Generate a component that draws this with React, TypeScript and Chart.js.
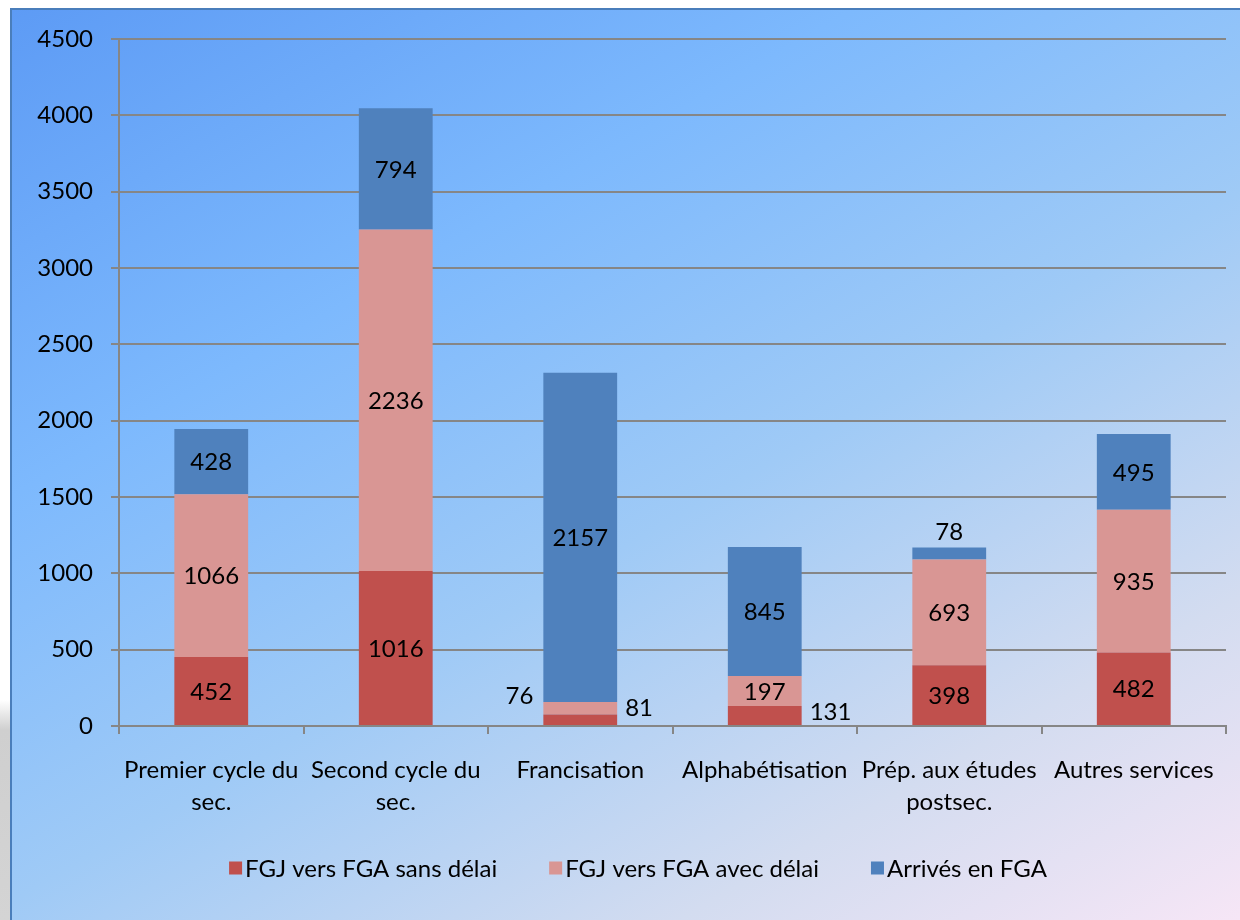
import React, { useEffect, useRef } from "react";
import { Chart, registerables } from "chart.js";

Chart.register(...registerables);

const categories: (string | string[])[] = [
  ["Premier cycle du", "sec."],
  ["Second cycle du", "sec."],
  "Francisation",
  "Alphabétisation",
  ["Prép. aux études", "postsec."],
  "Autres services",
];
const seriesNames = ["FGJ vers FGA sans délai", "FGJ vers FGA avec délai", "Arrivés en FGA"];
const sansDelai = [452, 1016, 76, 131, 398, 482];
const avecDelai = [1066, 2236, 81, 197, 693, 935];
const arrives = [428, 794, 2157, 845, 78, 495];
const yMin = 0;
const yMax = 4500;
const yStep = 500;

const colors = ["#c0504d", "#d99694", "#4f81bd"];
const FONT = 'Lato, "Open Sans", sans-serif';
const FS = 24;

const segLabels = {
  id: "segLabels",
  afterDatasetsDraw(chart: any) {
    const ctx = chart.ctx;
    ctx.save();
    ctx.font = `${FS}px ${FONT}`;
    ctx.fillStyle = "#000";
    ctx.textBaseline = "middle";
    const n = chart.data.datasets.length;
    chart.data.datasets.forEach((ds: any, di: number) => {
      const meta = chart.getDatasetMeta(di);
      meta.data.forEach((bar: any, i: number) => {
        const p = bar.getProps(["x", "y", "base", "width"], true);
        const h = p.base - p.y;
        let tx = p.x;
        let ty = (p.y + p.base) / 2;
        let align: CanvasTextAlign = "center";
        if (h < 24) {
          let nextSmall = false;
          if (di < n - 1) {
            const nb = chart.getDatasetMeta(di + 1).data[i].getProps(["y", "base"], true);
            nextSmall = nb.base - nb.y < 24;
          }
          if (di === n - 1) {
            ty = p.y - 16;
          } else if (di === 0 && nextSmall) {
            tx = p.x - p.width / 2 - 10;
            align = "right";
            ty = p.y - 19;
          } else {
            tx = p.x + p.width / 2 + 8;
            align = "left";
            ty = p.y + 5;
          }
        }
        ctx.textAlign = align;
        ctx.fillText(String(ds.data[i]), tx, ty + 1);
      });
    });
    ctx.restore();
  },
};

const customLegend = {
  id: "customLegend",
  afterDraw(chart: any) {
    const ctx = chart.ctx;
    ctx.save();
    ctx.font = `${FS}px ${FONT}`;
    ctx.textBaseline = "middle";
    ctx.textAlign = "left";
    const box = 13;
    const gapText = 3;
    const gapItem = 52;
    const items = chart.data.datasets.map((ds: any) => ({
      label: ds.label,
      color: ds.backgroundColor,
      w: box + gapText + ctx.measureText(ds.label).width,
    }));
    const total = items.reduce((a: number, it: any) => a + it.w, 0) + gapItem * (items.length - 1);
    let x = 638 - total / 2;
    const cy = 868;
    items.forEach((it: any) => {
      ctx.fillStyle = it.color;
      ctx.fillRect(x, cy - box / 2, box, box);
      ctx.fillStyle = "#000";
      ctx.fillText(it.label, x + box + gapText, cy + 1);
      x += it.w + gapItem;
    });
    ctx.restore();
  },
};

export default function App() {
  const ref = useRef<HTMLCanvasElement>(null);
  useEffect(() => {
    if (!ref.current) return;
    const chart = new Chart(ref.current, {
      type: "bar",
      data: {
        labels: categories,
        datasets: [sansDelai, avecDelai, arrives].map((d, i) => ({
          label: seriesNames[i],
          data: d,
          backgroundColor: colors[i],
          borderWidth: 0,
          barPercentage: 0.4,
          categoryPercentage: 1,
        })),
      },
      options: {
        responsive: false,
        animation: false,
        devicePixelRatio: 1,
        layout: { padding: { left: 0, right: 14, top: 39, bottom: 0 } },
        plugins: {
          tooltip: { enabled: false },
          legend: { display: false },
        },
        scales: {
          x: {
            stacked: true,
            afterFit: (s: any) => {
              s.height = 194;
            },
            grid: {
              offset: true,
              drawOnChartArea: false,
              drawTicks: true,
              tickLength: 8,
              color: "#868686",
              lineWidth: 2,
            },
            border: { color: "#868686", width: 2 },
            ticks: {
              color: "#000",
              padding: 20,
              maxRotation: 0,
              autoSkip: false,
              font: { family: FONT, size: FS, lineHeight: 1.33 },
            },
          },
          y: {
            stacked: true,
            min: yMin,
            max: yMax,
            afterFit: (s: any) => {
              s.width = 119;
            },
            grid: {
              color: "#868686",
              lineWidth: 2,
              drawTicks: true,
              tickLength: 8,
            },
            border: { color: "#868686", width: 2 },
            ticks: {
              stepSize: yStep,
              color: "#000",
              padding: 18,
              font: { family: FONT, size: FS },
              callback: (v: any) => String(v),
            },
          },
        },
      },
      plugins: [segLabels, customLegend],
    });
    return () => chart.destroy();
  }, []);

  return (
    <div style={{ position: "absolute", left: 0, top: 0, width: 1240, height: 920, background: "#fff", overflow: "hidden" }}>
      <div
        style={{
          position: "absolute",
          left: 0,
          top: 700,
          width: 12,
          height: 220,
          background: "linear-gradient(to bottom, rgba(200,200,200,0) 0px, #cfcfcf 30px, #d4d4d4 100%)",
        }}
      />
      <div
        style={{
          position: "absolute",
          left: 10,
          top: 8,
          width: 1230,
          height: 912,
          boxSizing: "border-box",
          borderTop: "2px solid #4a7ebb",
          borderLeft: "2px solid #4a7ebb",
          background: "linear-gradient(150deg, #5d9bf5 0%, #7db9fd 30%, #9fcaf6 55%, #d3dcf0 80%, #f6e6f6 100%)",
        }}
      />
      <canvas ref={ref} width={1240} height={920} style={{ position: "absolute", left: 0, top: 0, width: 1240, height: 920 }} />
    </div>
  );
}
